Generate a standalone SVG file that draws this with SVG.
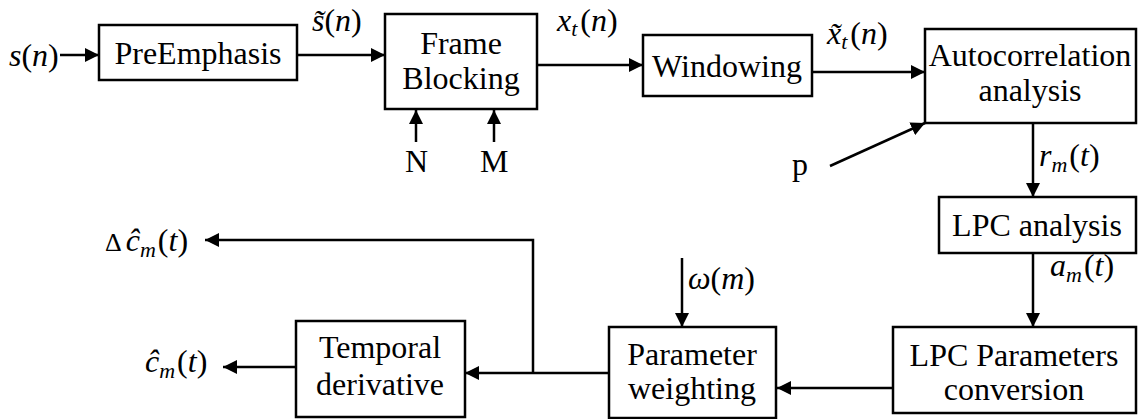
<svg xmlns="http://www.w3.org/2000/svg" width="1140" height="419" viewBox="0 0 1140 419">
<defs>
<style>
.box{fill:#fff;stroke:#000;stroke-width:2.5}
.t{font-family:"Liberation Serif","Times New Roman",serif;font-size:32px;fill:#000}
.c{text-anchor:middle}
.i{font-style:italic}
.sub{font-size:22px;font-style:italic}
.ln{fill:none;stroke:#000;stroke-width:2.5}
</style>
<marker id="ah" markerUnits="userSpaceOnUse" markerWidth="16" markerHeight="14" refX="14" refY="7" orient="auto">
<path d="M0,0 L14,7 L0,14 Z" fill="#000"/>
</marker>
</defs>
<rect width="1140" height="419" fill="#fff"/>

<g id="connectors">
<line class="ln" x1="60" y1="55" x2="99" y2="55" marker-end="url(#ah)"/>
<line class="ln" x1="297" y1="55" x2="385" y2="55" marker-end="url(#ah)"/>
<line class="ln" x1="416" y1="142" x2="416" y2="110" marker-end="url(#ah)"/>
<line class="ln" x1="494" y1="142" x2="494" y2="110" marker-end="url(#ah)"/>
<line class="ln" x1="537" y1="65" x2="643" y2="65" marker-end="url(#ah)"/>
<line class="ln" x1="808" y1="72" x2="925" y2="72" marker-end="url(#ah)"/>
<line class="ln" x1="830" y1="166" x2="925" y2="123" marker-end="url(#ah)"/>
<line class="ln" x1="1033" y1="123" x2="1033" y2="197" marker-end="url(#ah)"/>
<line class="ln" x1="1033" y1="253" x2="1033" y2="327" marker-end="url(#ah)"/>
<line class="ln" x1="893" y1="388" x2="777" y2="388" marker-end="url(#ah)"/>
<line class="ln" x1="682" y1="258" x2="682" y2="327" marker-end="url(#ah)"/>
<line class="ln" x1="609" y1="373" x2="465" y2="373" marker-end="url(#ah)"/>
<polyline class="ln" points="533,373 533,240 205,240" marker-end="url(#ah)"/>
<line class="ln" x1="296" y1="367" x2="223" y2="367" marker-end="url(#ah)"/>
</g>

<g id="preemphasis">
<rect class="box" x="99" y="25" width="198" height="55"/>
<text class="t c" x="198" y="64">PreEmphasis</text>
</g>
<g id="frameblocking">
<rect class="box" x="385" y="14" width="152" height="95"/>
<text class="t c" x="461" y="54">Frame</text>
<text class="t c" x="461" y="89">Blocking</text>
</g>
<g id="windowing">
<rect class="box" x="643" y="35" width="169" height="61"/>
<text class="t c" x="727" y="77">Windowing</text>
</g>
<g id="autocorrelation">
<rect class="box" x="925" y="29" width="211" height="94"/>
<text class="t c" x="1030" y="66">Autocorrelation</text>
<text class="t c" x="1030" y="101">analysis</text>
</g>
<g id="lpcanalysis">
<rect class="box" x="939" y="197" width="197" height="56"/>
<text class="t c" x="1037" y="236">LPC analysis</text>
</g>
<g id="lpcconversion">
<rect class="box" x="893" y="327" width="243" height="86"/>
<text class="t c" x="1014" y="366">LPC Parameters</text>
<text class="t c" x="1014" y="400">conversion</text>
</g>
<g id="parameterweighting">
<rect class="box" x="609" y="327" width="167" height="91"/>
<text class="t c" x="692" y="365">Parameter</text>
<text class="t c" x="692" y="399">weighting</text>
</g>
<g id="temporalderivative">
<rect class="box" x="296" y="321" width="169" height="96"/>
<text class="t c" x="380" y="358">Temporal</text>
<text class="t c" x="380" y="395">derivative</text>
</g>

<g id="labels">
<text class="t" x="9" y="66"><tspan class="i">s</tspan>(<tspan class="i">n</tspan>)</text>
<text class="t" x="312" y="31"><tspan class="i">s&#771;</tspan>(<tspan class="i">n</tspan>)</text>
<text class="t" x="557" y="31"><tspan class="i">x</tspan><tspan class="sub" dy="5">t</tspan><tspan dy="-5" dx="3">(</tspan><tspan class="i">n</tspan>)</text>
<text class="t" x="827" y="44"><tspan class="i">x&#771;</tspan><tspan class="sub" dy="5">t</tspan><tspan dy="-5" dx="3">(</tspan><tspan class="i">n</tspan>)</text>
<text class="t" x="405" y="172">N</text>
<text class="t" x="480" y="172">M</text>
<text class="t" x="792" y="175">p</text>
<text class="t" x="1039" y="166"><tspan class="i">r</tspan><tspan class="sub" dy="6">m</tspan><tspan dy="-6" dx="2">(</tspan><tspan class="i">t</tspan>)</text>
<text class="t" x="1050" y="276"><tspan class="i">a</tspan><tspan class="sub" dy="6">m</tspan><tspan dy="-6" dx="2">(</tspan><tspan class="i">t</tspan>)</text>
<text class="t" x="688" y="289"><tspan class="i">ω</tspan>(<tspan class="i">m</tspan>)</text>
<text class="t" x="105" y="251"><tspan font-size="26">Δ</tspan><tspan class="i" dx="4">ĉ</tspan><tspan class="sub" dy="6">m</tspan><tspan dy="-6" dx="2">(</tspan><tspan class="i">t</tspan>)</text>
<text class="t" x="145" y="372"><tspan class="i">ĉ</tspan><tspan class="sub" dy="6">m</tspan><tspan dy="-6" dx="2">(</tspan><tspan class="i">t</tspan>)</text>
</g>
</svg>
